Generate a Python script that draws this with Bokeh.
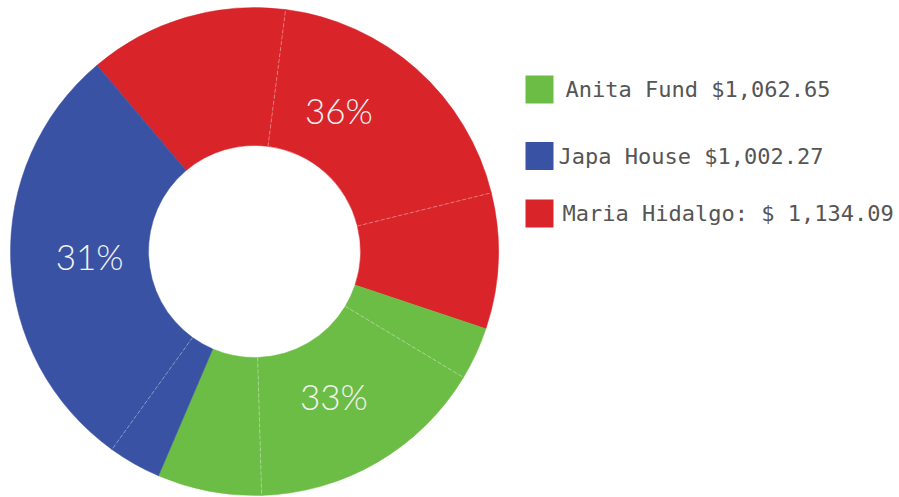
import math
from bokeh.plotting import figure
from bokeh.models import Range1d
from bokeh.core.properties import value
from bokeh.embed import file_html
from bokeh.resources import INLINE

# ---- data ----
group_names = ["Maria Hidalgo", "Anita Fund", "Japa House"]
group_pct_labels = ["36%", "33%", "31%"]
group_colors = ["#D9242A", "#6CBD45", "#3A52A3"]

slice_group = ["Maria Hidalgo", "Maria Hidalgo", "Maria Hidalgo",
               "Anita Fund", "Anita Fund", "Anita Fund",
               "Japa House", "Japa House"]
slice_share = [13.2, 19.1, 9.0, 3.5, 15.9, 6.9, 3.5, 28.9]  # percent of the ring

legend_labels = ["Anita Fund $1,062.65", "Japa House $1,002.27", "Maria Hidalgo: $ 1,134.09"]
legend_groups = ["Anita Fund", "Japa House", "Maria Hidalgo"]

# ---- layout constants (image pixels, y measured downward) ----
W, H = 899, 497
CX, CY = 254, 251
R_OUT, R_IN = 244, 106
START_DEG = 130.2
LABEL_R = 165
label_angle_nudge = [3.4, 4.6, -6.8]  # degrees, per group label
legend_sq_x = 539
legend_row_y = [89, 155.5, 213]
legend_text_x = [565, 558, 562]


def py(y):
    return H - y


p = figure(width=W, height=H, output_backend="svg", toolbar_location=None,
           x_range=Range1d(0, W), y_range=Range1d(0, H),
           min_border=0, outline_line_color=None)
p.axis.visible = False
p.grid.visible = False
p.background_fill_color = "white"

color_of = dict(zip(group_names, group_colors))

starts, ends, cols = [], [], []
cum = 0.0
for g, s in zip(slice_group, slice_share):
    hi = START_DEG - cum * 3.6
    lo = hi - s * 3.6
    starts.append(math.radians(lo))
    ends.append(math.radians(hi))
    cols.append(color_of[g])
    cum += s

p.annular_wedge(x=CX, y=py(CY), inner_radius=R_IN, outer_radius=R_OUT,
                start_angle=starts, end_angle=ends, fill_color=cols,
                line_color=cols, line_width=0.5, direction="anticlock")

# thin light separators between sub-slices of the same group
x0, y0, x1, y1 = [], [], [], []
for i in range(len(slice_group) - 1):
    if slice_group[i] == slice_group[i + 1]:
        a = starts[i]
        x0.append(CX + R_IN * math.cos(a)); y0.append(py(CY) + R_IN * math.sin(a))
        x1.append(CX + R_OUT * math.cos(a)); y1.append(py(CY) + R_OUT * math.sin(a))
p.segment(x0=x0, y0=y0, x1=x1, y1=y1, line_color="white", line_alpha=0.45,
          line_width=0.8, line_dash="4 2")

# percentage labels near the middle angle of each group
lx, ly = [], []
for g, nudge in zip(group_names, label_angle_nudge):
    idx = [i for i, sg in enumerate(slice_group) if sg == g]
    a_hi = ends[idx[0]]
    a_lo = starts[idx[-1]]
    mid = (a_hi + a_lo) / 2 + math.radians(nudge)
    lx.append(CX + LABEL_R * math.cos(mid))
    ly.append(py(CY) + LABEL_R * math.sin(mid))
p.text(x=lx, y=ly, text=group_pct_labels, text_align="center", text_baseline="middle",
       text_font=value("Lato Light"), text_font_size="35px", text_color="#F2F2F2")

# legend
p.rect(x=[legend_sq_x] * 3, y=[py(v) for v in legend_row_y], width=28, height=28,
       fill_color=[color_of[g] for g in legend_groups], line_color=None)
p.text(x=legend_text_x, y=[py(v) for v in legend_row_y], text=legend_labels,
       text_align="left", text_baseline="middle", text_font=value("DejaVu Sans Mono"),
       text_font_size="22px", text_color="#555555")

open("out.html", "w").write(file_html(p, INLINE))
